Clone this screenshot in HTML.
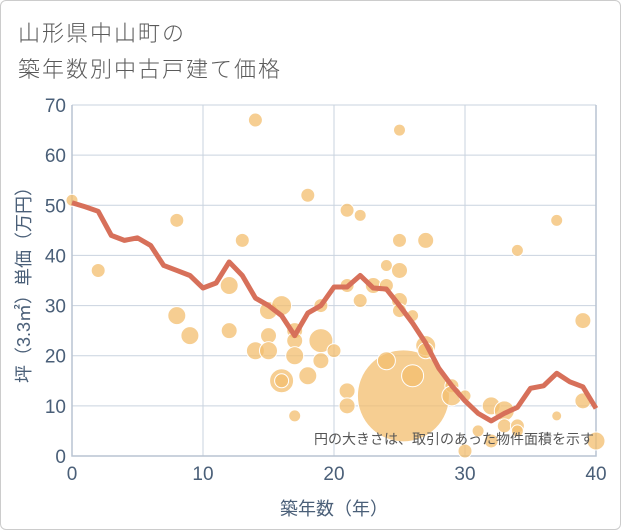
<!DOCTYPE html>
<html><head><meta charset="utf-8">
<style>
body{margin:0;background:#fff;}
#wrap{position:relative;width:621px;height:530px;overflow:hidden;font-family:"Liberation Sans","Noto Sans CJK JP",sans-serif;}
#frame{position:absolute;left:0;top:0;width:619px;height:528px;border:1px solid #ccc;border-radius:6px;}
.title{position:absolute;left:18px;font-size:22px;color:#5a5a5a;letter-spacing:2px;font-weight:300;}
</style></head>
<body>
<div id="wrap">
<div id="frame"></div>
<div class="title" style="top:16px">山形県中山町の</div>
<div class="title" style="top:52px">築年数別中古戸建て価格</div>
<svg id="chart" width="621" height="530" style="position:absolute;left:0;top:0"></svg>
</div>
<script>
const lineX=[0,1,2,3,4,5,6,7,8,9,10,11,12,13,14,15,16,17,18,19,20,21,22,23,24,25,26,27,28,29,30,31,32,33,34,35,36,37,38,39,40];
const lineY=[50.5,49.7,48.8,44,43,43.5,42,38,37,36,33.5,34.5,38.7,36,31.5,30,28,24,28.5,30,33.7,33.7,36,33.5,33.3,30,26.5,22.5,17.5,14,11,8.5,7,8.5,9.7,13.5,14,16.5,14.8,13.8,9.5];
const bubX=[25.3,0,2,8,8,9,12,12,13,14,14,15,15,15,16,16,16,17,17,17,17,18,18,19,19,19,20,21,21,21,21,22,22,23,24,24,24,25,25,25,25,25,26,26,27,27,27,29,29,30,30,31,32,32,33,33,34,34,34,37,37,39,39,40];
const bubY=[12,51,37,47,28,24,34,25,43,67,21,29,24,21,30,15,15,25,23,20,8,52,16,23,19,30,21,49,34,13,10,48,31,34,38,34,19,65,43,37,31,29,28,16,43,22,21,14,12,12,1,5,10,3,9,6,6,41,5,47,8,27,11,3];
const bubR=[46,6,7,7,9,9,9,8,7,7,9,9,8,9,10,12,7,8,8,9,6,7,9,12,8,7,7,7,7,8,8,6,7,8,6,7,9,6,7,8,8,7,6,11,8,10,8,7,10,6,7,6,9,7,10,7,7,6,6,6,5,8,8,9];
const xTicks=[0,10,20,30,40];
const yTicks=[0,10,20,30,40,50,60,70];
const L=72,R=596,T=105,B=456;
const sx=v=>L+(v-0)/40*(R-L);
const sy=v=>B-(v/70)*(B-T);
const svg=document.getElementById('chart');
const NS='http://www.w3.org/2000/svg';
function mk(t,a){const e=document.createElementNS(NS,t);for(const k in a)e.setAttribute(k,a[k]);svg.appendChild(e);return e;}
yTicks.forEach(v=>{
 const g=mk('line',{x1:L,x2:R,y1:sy(v),y2:sy(v),stroke:'#c9d3df','stroke-width':1});
 
 
 const t=mk('text',{x:L-6,y:sy(v)+7,'text-anchor':'end','font-size':19,fill:'#4a5f78','font-family':'Liberation Sans, sans-serif'});
 t.textContent=v;
 
 
});
xTicks.forEach(v=>{
 const g=mk('line',{x1:sx(v),x2:sx(v),y1:T,y2:B,stroke:'#c9d3df','stroke-width':1});
 
 
 const t=mk('text',{x:sx(v),y:B+24,'text-anchor':'middle','font-size':19,fill:'#4a5f78','font-family':'Liberation Sans, sans-serif'});
 t.textContent=v;
 
 
});
const ax=mk('path',{d:`M${L},${T}V${B}H${R}V${T}`,fill:'none',stroke:'#b8c4d2','stroke-width':1.5});


bubX.forEach((x,i)=>{
 const c=mk('circle',{cx:sx(x),cy:sy(bubY[i]),r:bubR[i],fill:'rgba(243,190,110,0.75)',stroke:'#fff','stroke-width':1});
 
 
});
const p=mk('polyline',{points:lineX.map((x,i)=>sx(x)+','+sy(lineY[i])).join(' '),fill:'none',stroke:'#d7705a','stroke-width':5,'stroke-linejoin':'round'});
p.setAysttribute=null;


const note=mk('text',{x:594,y:444,'text-anchor':'end','font-size':14,fill:'#555','font-family':'Liberation Sans, Noto Sans CJK JP, sans-serif'});
note.textContent='円の大きさは、取引のあった物件面積を示す';


const xt=mk('text',{x:(L+R)/2,y:515,'text-anchor':'middle','font-size':18,fill:'#4a5f78','font-family':'Liberation Sans, Noto Sans CJK JP, sans-serif'});
xt.textContent='築年数（年）';


const yt=mk('text',{x:0,y:0,'text-anchor':'middle','font-size':18,fill:'#4a5f78','font-family':'Liberation Sans, Noto Sans CJK JP, sans-serif',transform:`translate(30,${(T+B)/2}) rotate(-90)`});
yt.textContent='坪（3.3㎡）単価（万円）';


</script>
</body></html>
